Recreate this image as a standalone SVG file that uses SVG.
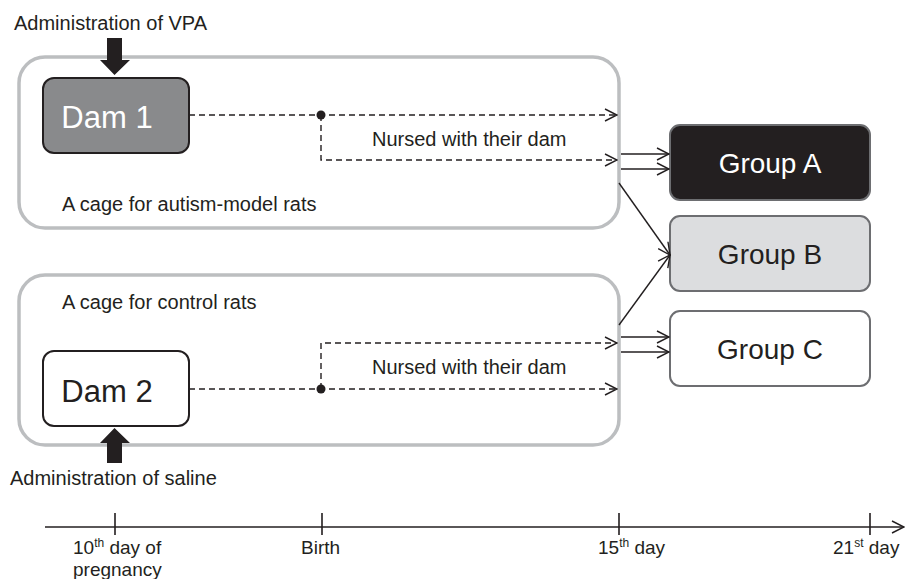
<svg xmlns="http://www.w3.org/2000/svg" width="905" height="579" viewBox="0 0 905 579">
<style>
text{font-family:"Liberation Sans",Arial,sans-serif;fill:#231f20}
.cage{fill:none;stroke:#bcbec0;stroke-width:3.5}
.lbl{font-size:20px}
.tl{font-size:19px}
.dash{fill:none;stroke:#231f20;stroke-width:1.4;stroke-dasharray:6,4}
.solid{fill:none;stroke:#231f20;stroke-width:1.4}
.grp{stroke:#6d6e71;stroke-width:2}
.big{font-size:28px;text-anchor:middle}
</style>
<defs>
<marker id="oa" viewBox="0 0 14 14" refX="13" refY="7" markerWidth="14" markerHeight="14" markerUnits="userSpaceOnUse" orient="auto">
<path d="M1,1 L13,7 L1,13" fill="none" stroke="#231f20" stroke-width="1.4"/>
</marker>
</defs>
<g id="cage-autism">
<rect class="cage" x="19" y="57" width="600" height="171" rx="26"/>
<text class="lbl" x="62" y="211">A cage for autism-model rats</text>
</g>
<g id="cage-control">
<rect class="cage" x="19" y="275" width="600" height="170" rx="26"/>
<text class="lbl" x="62" y="309">A cage for control rats</text>
</g>
<g id="vpa">
<text class="lbl" x="14" y="30">Administration of VPA</text>
<path d="M107,38 H122 V60 H130 L114.5,75 L100,60 H107 Z" fill="#231f20"/>
</g>
<g id="saline">
<path d="M107,463 H122 V443 H130 L114.5,428 L100,443 H107 Z" fill="#231f20"/>
<text class="lbl" x="10" y="485">Administration of saline</text>
</g>
<g id="dam1">
<rect x="43" y="78" width="146" height="75" rx="11" fill="#898a8c" stroke="#231f20" stroke-width="2"/>
<text x="107" y="128" font-size="31" text-anchor="middle" style="fill:#fff">Dam 1</text>
</g>
<g id="dam2">
<rect x="43" y="351" width="146" height="75" rx="11" fill="#fff" stroke="#231f20" stroke-width="2"/>
<text x="107" y="402" font-size="31" text-anchor="middle">Dam 2</text>
</g>
<g id="groupA">
<rect class="grp" x="670" y="125" width="200" height="75" rx="10" fill="#231f20"/>
<text class="big" x="770" y="173" style="fill:#fff">Group A</text>
</g>
<g id="groupB">
<rect class="grp" x="670" y="216" width="200" height="75" rx="10" fill="#dcdddf"/>
<text class="big" x="770" y="264">Group B</text>
</g>
<g id="groupC">
<rect class="grp" x="670" y="311" width="200" height="75" rx="10" fill="#fff"/>
<text class="big" x="770" y="359">Group C</text>
</g>
<g id="connectors">
<path class="dash" d="M189,115 H617" marker-end="url(#oa)"/>
<path class="dash" d="M321,115 V160 H617" marker-end="url(#oa)"/>
<circle cx="321" cy="115" r="4.5" fill="#231f20"/>
<text class="lbl" x="372" y="146">Nursed with their dam</text>
<path class="dash" d="M189,389 H617" marker-end="url(#oa)"/>
<path class="dash" d="M321,389 V343 H617" marker-end="url(#oa)"/>
<circle cx="321" cy="389" r="4.5" fill="#231f20"/>
<text class="lbl" x="372" y="374">Nursed with their dam</text>
<path class="solid" d="M621,154 H669" marker-end="url(#oa)"/>
<path class="solid" d="M621,169 H669" marker-end="url(#oa)"/>
<path class="solid" d="M619,183 L670,255" marker-end="url(#oa)"/>
<path class="solid" d="M619,325 L670,255" marker-end="url(#oa)"/>
<path class="solid" d="M621,337 H669" marker-end="url(#oa)"/>
<path class="solid" d="M621,352 H669" marker-end="url(#oa)"/>
</g>
<g id="timeline">
<path class="solid" d="M45,527 H904" marker-end="url(#oa)"/>
<path d="M115,513 V535 M322,513 V535 M619,513 V535 M870,513 V535" stroke="#231f20" stroke-width="1.6"/>
<text class="tl" x="73" y="554">10<tspan font-size="12" dy="-7">th</tspan><tspan dy="7"> day of</tspan></text>
<text class="tl" x="73" y="576">pregnancy</text>
<text class="tl" x="301" y="554">Birth</text>
<text class="tl" x="598" y="554">15<tspan font-size="12" dy="-7">th</tspan><tspan dy="7"> day</tspan></text>
<text class="tl" x="833" y="554">21<tspan font-size="12" dy="-7">st</tspan><tspan dy="7"> day</tspan></text>
</g>
</svg>
